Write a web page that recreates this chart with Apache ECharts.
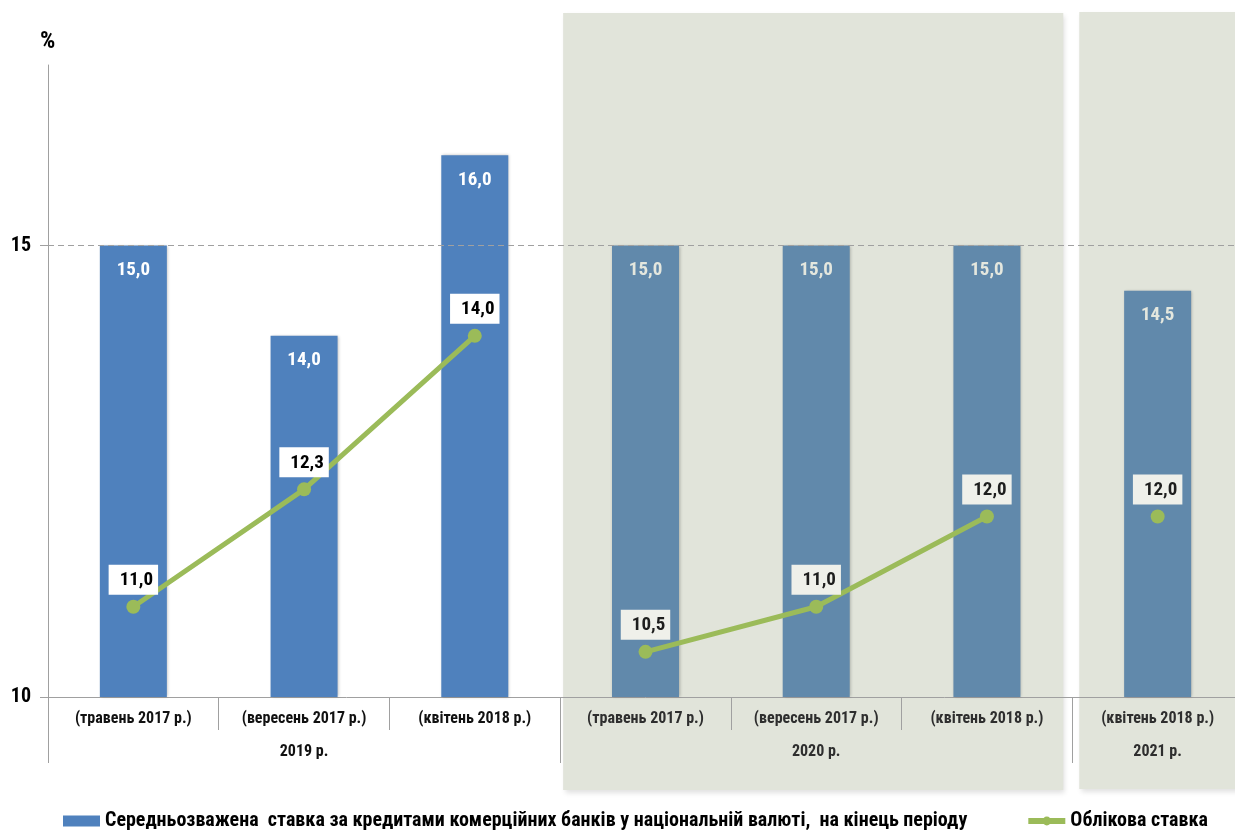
<!DOCTYPE html>
<html><head><meta charset="utf-8">
<script src="https://cdn.jsdelivr.net/npm/echarts@6/dist/echarts.min.js"></script>
<style>html,body{margin:0;padding:0;background:#fff;overflow:hidden}#c{width:1243px;height:830px}</style>
</head><body><div id="c"></div>
<script>
const categories = ['(травень 2017 р.)','(вересень 2017 р.)','(квітень 2018 р.)','(травень 2017 р.)','(вересень 2017 р.)','(квітень 2018 р.)','(квітень 2018 р.)'];
const groupLabels = ['', '2019 р.', '', '', '2020 р.', '', '2021 р.'];
const groupStarts = [0, 3, 6];
const lendingRate = [15.0, 14.0, 16.0, 15.0, 15.0, 15.0, 14.5];
const policyRate2019 = [11.0, 12.3, 14.0, null, null, null, null];
const policyRate2020 = [null, null, null, 10.5, 11.0, 12.0, null];
const policyRate2021 = [null, null, null, null, null, null, 12.0];
const yTicks = [10, 15];
const yRange = [10, 17];
const shadedFrom = 3;
const unitLabel = '%';
const barName = 'Середньозважена  ставка за кредитами комерційних банків у національній валюті,  на кінець періоду';
const lineName = 'Облікова ставка';

const FONT = "'Liberation Sans Narrow', 'Arial Narrow', 'Roboto Condensed', 'Liberation Sans', sans-serif";
const fmt = v => Number(v).toFixed(1).replace('.', ',');
const shaded = i => i >= shadedFrom;

const chart = echarts.init(document.getElementById('c'), null, {renderer: 'canvas'});

const barData = lendingRate.map((v, i) => ({
  value: v,
  itemStyle: {color: shaded(i) ? '#6189AB' : '#4F81BD'},
  label: {color: shaded(i) ? '#E4E7DE' : '#FFFFFF'}
}));
function lineData(arr) {
  return arr.map((v, i) => v == null ? '-' : {
    value: v,
    label: shaded(i) ? {backgroundColor: '#EFF0EA', color: '#1E1E1E'} : {backgroundColor: '#FFFFFF', color: '#000000'}
  });
}
const lineCommon = {
  type: 'line', name: lineName, symbol: 'circle', symbolSize: 14,
  itemStyle: {color: '#9BBB59'},
  lineStyle: {color: '#9BBB59', width: 5},
  z: 5,
  label: {show: true, position: 'top', distance: 5, formatter: p => fmt(p.value),
    fontFamily: FONT, fontWeight: 'bold', fontSize: 19, padding: [6, 5, 5, 11]}
};

chart.setOption({
  animation: false,
  backgroundColor: '#ffffff',
  textStyle: {fontFamily: FONT},
  title: {text: unitLabel, left: 35, top: 25,
    textStyle: {fontFamily: FONT, fontWeight: 'bold', fontSize: 24, color: '#000'}},
  grid: {left: 48, top: 65, bottom: 133, right: 0, containLabel: false},
  legend: {
    left: 58, top: 806, itemGap: 58, itemWidth: 37, itemHeight: 11,
    textStyle: {fontFamily: FONT, fontWeight: 'bold', fontSize: 20, color: '#000'},
    data: [{name: barName, icon: 'rect', itemStyle: {color: '#4F81BD'}},
           {name: lineName, lineStyle: {width: 6, color: '#9BBB59'}, itemStyle: {color: '#9BBB59'}}]
  },
  xAxis: [{
    type: 'category', data: categories, position: 'bottom',
    axisLine: {show: true, lineStyle: {color: '#A0A0A0', width: 1}},
    axisTick: {show: true, interval: 0, length: 33, lineStyle: {color: '#A0A0A0'}},
    axisLabel: {interval: 0, margin: 14, fontFamily: FONT, fontWeight: 'bold', fontSize: 16,
      color: (v, i) => shaded(i) ? '#2E2E2E' : '#111111'}
  }, {
    type: 'category', data: groupLabels, position: 'bottom',
    axisLine: {show: false},
    axisTick: {show: true, length: 66, interval: (i) => groupStarts.includes(i), lineStyle: {color: '#A0A0A0'}},
    axisLabel: {interval: 0, margin: 47, fontFamily: FONT, fontWeight: 'bold', fontSize: 16,
      color: (v, i) => shaded(i) ? '#2E2E2E' : '#111111'}
  }],
  yAxis: {
    type: 'value', min: yRange[0], max: yRange[1], interval: 5,
    axisLine: {show: true, lineStyle: {color: '#A0A0A0', width: 1}},
    axisTick: {show: true, length: 8, customValues: yTicks, lineStyle: {color: '#A0A0A0'}},
    axisLabel: {customValues: yTicks, margin: 17, fontFamily: FONT, fontWeight: 'bold', fontSize: 20, color: '#000'},
    splitLine: {show: false}
  },
  series: [{
    type: 'bar', name: barName, data: barData, barWidth: 67, z: 2,
    itemStyle: {color: '#4F81BD', shadowColor: 'rgba(0,0,0,0.25)', shadowBlur: 3, shadowOffsetX: 1, shadowOffsetY: 0},
    label: {show: true, position: 'insideTop', distance: 15, formatter: p => fmt(p.value),
      fontFamily: FONT, fontWeight: 'bold', fontSize: 19},
    markLine: {silent: true, symbol: 'none', label: {show: false},
      lineStyle: {type: [6, 4], color: '#A0A0A0', width: 1},
      data: [{yAxis: yTicks[1]}]}
  },
  Object.assign({}, lineCommon, {data: lineData(policyRate2019)}),
  Object.assign({}, lineCommon, {data: lineData(policyRate2020)}),
  Object.assign({}, lineCommon, {data: lineData(policyRate2021)})
  ]
});

// shaded period backgrounds, positioned from the category axis
const c0 = chart.convertToPixel({xAxisIndex: 0}, 0);
const c1 = chart.convertToPixel({xAxisIndex: 0}, 1);
const band = c1 - c0;
const bStart = i => c0 + (i - 0.5) * band;
const shadeStyle = {fill: '#E1E4DA', shadowColor: 'rgba(0,0,0,0.12)', shadowBlur: 5, shadowOffsetX: 2, shadowOffsetY: 3};
chart.setOption({
  graphic: [
    {type: 'rect', z: -10, silent: true, shape: {x: bStart(3) + 3, y: 13, width: bStart(6) - 9 - (bStart(3) + 3), height: 777}, style: shadeStyle},
    {type: 'rect', z: -10, silent: true, shape: {x: bStart(6) + 7, y: 12, width: 300, height: 777}, style: shadeStyle}
  ]
});
</script></body></html>
